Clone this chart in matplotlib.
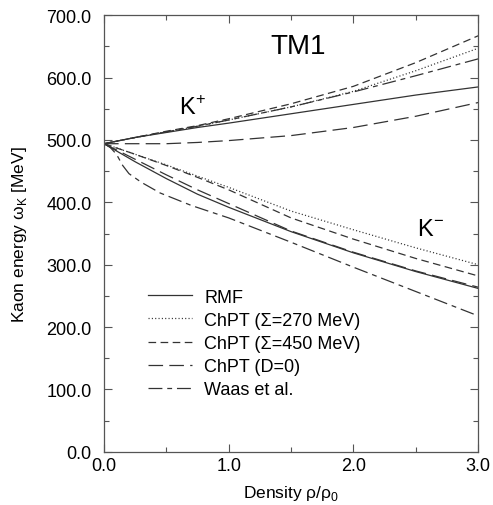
# Kaon energies in nuclear matter (TM1)

import numpy as np
import matplotlib.pyplot as plt
from matplotlib.ticker import MultipleLocator, FormatStrFormatter

plt.rcParams['font.family'] = ['Liberation Sans', 'DejaVu Sans']
plt.rcParams['lines.scale_dashes'] = False

# density grid rho/rho0
density = [0.0, 0.25, 0.5, 0.75, 1.0, 1.5, 2.0, 2.5, 3.0]

# K+ energies [MeV]
kp_rmf = [494, 504, 512, 520, 527, 542, 557, 572, 585]
kp_sig270 = [494, 504, 513, 522, 532, 553, 578, 611, 647]
kp_sig450 = [494, 504, 514, 523, 534, 558, 586, 624, 667]
kp_d0 = [494, 494, 494, 496, 499, 507, 520, 538, 560]
kp_waas = [494, 504, 513, 522, 532, 553, 577, 603, 630]

# K- energies [MeV]
km_density_waas = [0.0, 0.05, 0.1, 0.15, 0.2, 0.3, 0.45, 0.7, 1.0, 1.5, 2.0, 2.5, 3.0]
km_waas = [494, 488, 477, 459, 446, 432, 415, 395, 375, 336, 296, 257, 218]
km_rmf = [494, 465, 438, 413, 392, 353, 319, 289, 262]
km_sig270 = [494, 477, 460, 442, 424, 386, 356, 327, 300]
km_sig450 = [494, 477, 459, 440, 420, 375, 341, 310, 282]
km_d0 = [494, 469, 444, 420, 398, 354, 320, 290, 264]

labels = ['RMF', 'ChPT (\u03a3=270 MeV)', 'ChPT (\u03a3=450 MeV)', 'ChPT (D=0)', 'Waas et al.']

col = '#333333'
lw = 0.9
sty_rmf = dict(color=col, lw=lw)
sty_270 = dict(color=col, lw=lw, dashes=(0.8, 1.6))
sty_450 = dict(color=col, lw=lw, dashes=(5.5, 3.2))
sty_d0 = dict(color=col, lw=lw, dashes=(10.5, 4.5))
sty_waas = dict(color=col, lw=lw, dashes=(10, 3.5, 3.5, 3.5))

fig = plt.figure(figsize=(4.93, 5.06), dpi=100)
ax = fig.add_axes([0.211, 0.105, 0.759, 0.863])

ax.plot(density, kp_rmf, label=labels[0], **sty_rmf)
ax.plot(density, kp_sig270, label=labels[1], **sty_270)
ax.plot(density, kp_sig450, label=labels[2], **sty_450)
ax.plot(density, kp_d0, label=labels[3], **sty_d0)
ax.plot(density, kp_waas, label=labels[4], **sty_waas)

ax.plot(density, km_rmf, **sty_rmf)
ax.plot(density, km_sig270, **sty_270)
ax.plot(density, km_sig450, **sty_450)
ax.plot(density, km_d0, **sty_d0)
ax.plot(km_density_waas, km_waas, **sty_waas)

ax.set_xlim(0, 3)
ax.set_ylim(0, 700)
ax.xaxis.set_major_locator(MultipleLocator(1.0))
ax.xaxis.set_minor_locator(MultipleLocator(0.5))
ax.yaxis.set_major_locator(MultipleLocator(100))
ax.yaxis.set_minor_locator(MultipleLocator(50))
ax.xaxis.set_major_formatter(FormatStrFormatter('%.1f'))
ax.yaxis.set_major_formatter(FormatStrFormatter('%.1f'))
ax.tick_params(which='both', direction='in', top=True, right=True,
               color='#555555', labelsize=13, width=0.8)
ax.tick_params(which='major', length=6)
ax.tick_params(which='minor', length=3.5)
ax.tick_params(axis='x', which='major', pad=4)
ax.tick_params(axis='y', which='major', pad=9)
for s in ax.spines.values():
    s.set_color('#555555')
    s.set_linewidth(0.9)

ax.set_xlabel('Density \u03c1/\u03c1$_\\mathregular{0}$', fontsize=12.5, labelpad=6)
ax.set_ylabel('Kaon energy \u03c9$_\\mathregular{K}$ [MeV]', fontsize=12.5, labelpad=12)

ax.text(1.56, 650, 'TM1', fontsize=20, ha='center', va='center')
ax.text(0.71, 552, 'K$^\\mathregular{+}$', fontsize=17, ha='center', va='center')
ax.text(2.62, 358, 'K$^\\mathregular{-}$', fontsize=17, ha='center', va='center')

ax.legend(loc='upper left', bbox_to_anchor=(0.118, 0.374), frameon=False,
          fontsize=13, handlelength=2.4, handletextpad=0.7,
          labelspacing=0.34, borderpad=0, borderaxespad=0)

plt.savefig('out.png', dpi=100)
